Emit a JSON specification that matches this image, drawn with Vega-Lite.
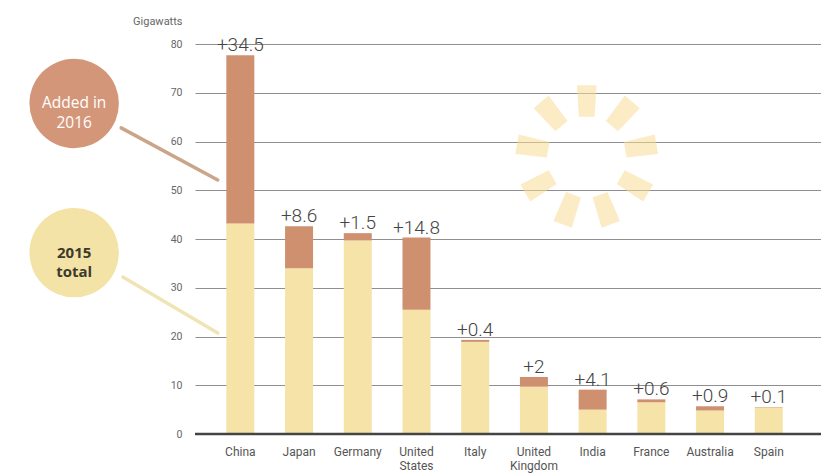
{
  "$schema": "https://vega.github.io/schema/vega-lite/v6.json",
  "width": 626,
  "height": 390,
  "autosize": {"type": "none"},
  "padding": {"left": 195, "top": 44, "right": 0, "bottom": 42},
  "background": "white",
  "config": {"view": {"stroke": null}, "font": "Roboto"},
  "datasets": {
    "countries": [
      {"idx": 0, "country": "China", "base": 43.2, "total": 77.7, "label": "+34.5"},
      {"idx": 1, "country": "Japan", "base": 34.0, "total": 42.6, "label": "+8.6"},
      {"idx": 2, "country": "Germany", "base": 39.7, "total": 41.2, "label": "+1.5"},
      {"idx": 3, "country": "United\nStates", "base": 25.5, "total": 40.3, "label": "+14.8"},
      {"idx": 4, "country": "Italy", "base": 18.9, "total": 19.3, "label": "+0.4"},
      {"idx": 5, "country": "United\nKingdom", "base": 9.7, "total": 11.7, "label": "+2"},
      {"idx": 6, "country": "India", "base": 5.0, "total": 9.1, "label": "+4.1"},
      {"idx": 7, "country": "France", "base": 6.5, "total": 7.1, "label": "+0.6"},
      {"idx": 8, "country": "Australia", "base": 4.8, "total": 5.7, "label": "+0.9"},
      {"idx": 9, "country": "Spain", "base": 5.4, "total": 5.5, "label": "+0.1"}
    ],
    "petals": [
      {"x": 5.899, "y": 68.31, "a": 0},
      {"x": 6.502, "y": 65.64, "a": 40},
      {"x": 6.821, "y": 58.87, "a": 80},
      {"x": 6.712, "y": 51.08, "a": 120},
      {"x": 6.218, "y": 46.03, "a": 160},
      {"x": 5.581, "y": 46.03, "a": 200},
      {"x": 5.086, "y": 51.08, "a": 240},
      {"x": 4.977, "y": 58.87, "a": 280},
      {"x": 5.296, "y": 65.64, "a": 320}
    ],
    "keys": [
      {"key": "added", "text": "Added in\n2016", "x": -2.83, "y": 67.8, "fill": "#d49679", "ink": "#ffffff", "lx": -2.03, "ly": 62.8, "lx2": -0.385, "ly2": 52.1, "line": "#cba58a"},
      {"key": "base", "text": "2015\ntotal", "x": -2.83, "y": 37.2, "fill": "#f4e3a6", "ink": "#3c3a2c", "lx": -2.0, "ly": 32.2, "lx2": -0.385, "ly2": 20.7, "line": "#f1e4b4"}
    ]
  },
  "layer": [
    {
      "data": {"name": "countries"},
      "mark": {"type": "bar", "width": 28, "color": "#f5e3a8"},
      "encoding": {
        "x": {"field": "idx", "type": "quantitative", "scale": {"domain": [-0.687, 9.804], "nice": false, "zero": false}, "axis": null},
        "y": {"field": "base", "type": "quantitative", "scale": {"domain": [0, 80], "nice": false},
          "axis": {"title": "Gigawatts", "values": [0, 10, 20, 30, 40, 50, 60, 70, 80], "grid": true, "gridColor": "#8f8f8f", "gridWidth": 1, "domain": false, "ticks": false, "labelPadding": 13, "labelFontSize": 10.5, "labelColor": "#666666",
            "titleAngle": 0, "titleAlign": "right", "titleBaseline": "middle", "titleX": -13, "titleY": -23, "titleFontSize": 11, "titleFontWeight": "normal", "titleColor": "#666666"}}
      }
    },
    {
      "data": {"name": "petals"},
      "mark": {"type": "point", "filled": true, "shape": "M -0.62 -1 L 0.62 -1 L 0.5 1 L -0.5 1 Z", "size": 1000, "opacity": 0.55, "color": "#f8dc98"},
      "encoding": {
        "x": {"field": "x", "type": "quantitative", "scale": {"domain": [-0.687, 9.804], "nice": false, "zero": false}},
        "y": {"field": "y", "type": "quantitative", "scale": {"domain": [0, 80], "nice": false}},
        "angle": {"field": "a", "type": "quantitative", "scale": null}
      }
    },
    {
      "data": {"name": "countries"},
      "mark": {"type": "bar", "width": 28, "color": "#cf9070"},
      "encoding": {
        "x": {"field": "idx", "type": "quantitative", "scale": {"domain": [-0.687, 9.804], "nice": false, "zero": false}},
        "y": {"field": "base", "type": "quantitative", "scale": {"domain": [0, 80], "nice": false}},
        "y2": {"field": "total"}
      }
    },
    {
      "data": {"name": "keys"},
      "mark": {"type": "rule", "strokeWidth": 3.5, "strokeCap": "round"},
      "encoding": {
        "x": {"field": "lx", "type": "quantitative", "scale": {"domain": [-0.687, 9.804], "nice": false, "zero": false}},
        "y": {"field": "ly", "type": "quantitative", "scale": {"domain": [0, 80], "nice": false}},
        "x2": {"field": "lx2"},
        "y2": {"field": "ly2"},
        "color": {"field": "line", "type": "nominal", "scale": null}
      }
    },
    {
      "data": {"name": "keys"},
      "mark": {"type": "point", "filled": true, "shape": "circle", "size": 8000, "opacity": 1},
      "encoding": {
        "x": {"field": "x", "type": "quantitative", "scale": {"domain": [-0.687, 9.804], "nice": false, "zero": false}},
        "y": {"field": "y", "type": "quantitative", "scale": {"domain": [0, 80], "nice": false}},
        "color": {"field": "fill", "type": "nominal", "scale": null}
      }
    },
    {
      "data": {"name": "keys"},
      "transform": [{"filter": "datum.key == 'added'"}],
      "mark": {"type": "text", "lineBreak": "\n", "fontSize": 15.5, "lineHeight": 20, "baseline": "middle", "align": "center", "font": "Open Sans"},
      "encoding": {
        "x": {"field": "x", "type": "quantitative", "scale": {"domain": [-0.687, 9.804], "nice": false, "zero": false}},
        "y": {"field": "y", "type": "quantitative", "scale": {"domain": [0, 80], "nice": false}},
        "text": {"field": "text"},
        "color": {"field": "ink", "type": "nominal", "scale": null}
      }
    },
    {
      "data": {"name": "keys"},
      "transform": [{"filter": "datum.key == 'base'"}],
      "mark": {"type": "text", "lineBreak": "\n", "fontSize": 15, "fontWeight": "bold", "lineHeight": 19, "baseline": "middle", "align": "center", "font": "Open Sans"},
      "encoding": {
        "x": {"field": "x", "type": "quantitative", "scale": {"domain": [-0.687, 9.804], "nice": false, "zero": false}},
        "y": {"field": "y", "type": "quantitative", "scale": {"domain": [0, 80], "nice": false}},
        "text": {"field": "text"},
        "color": {"field": "ink", "type": "nominal", "scale": null}
      }
    },
    {
      "data": {"values": [{"v": 0}]},
      "mark": {"type": "rule", "color": "#444444", "strokeWidth": 2.5},
      "encoding": {
        "y": {"field": "v", "type": "quantitative", "scale": {"domain": [0, 80], "nice": false}}
      }
    },
    {
      "data": {"name": "countries"},
      "mark": {"type": "text", "fontSize": 19, "fontWeight": 300, "baseline": "bottom", "dy": 0, "color": "#444444"},
      "encoding": {
        "x": {"field": "idx", "type": "quantitative", "scale": {"domain": [-0.687, 9.804], "nice": false, "zero": false}},
        "y": {"field": "total", "type": "quantitative", "scale": {"domain": [0, 80], "nice": false}},
        "text": {"field": "label"}
      }
    },
    {
      "data": {"name": "countries"},
      "mark": {"type": "text", "fontSize": 12, "baseline": "top", "lineBreak": "\n", "lineHeight": 14, "dy": 13, "color": "#555555"},
      "encoding": {
        "x": {"field": "idx", "type": "quantitative", "scale": {"domain": [-0.687, 9.804], "nice": false, "zero": false}},
        "y": {"datum": 0, "type": "quantitative", "scale": {"domain": [0, 80], "nice": false}},
        "text": {"field": "country"}
      }
    }
  ]
}
